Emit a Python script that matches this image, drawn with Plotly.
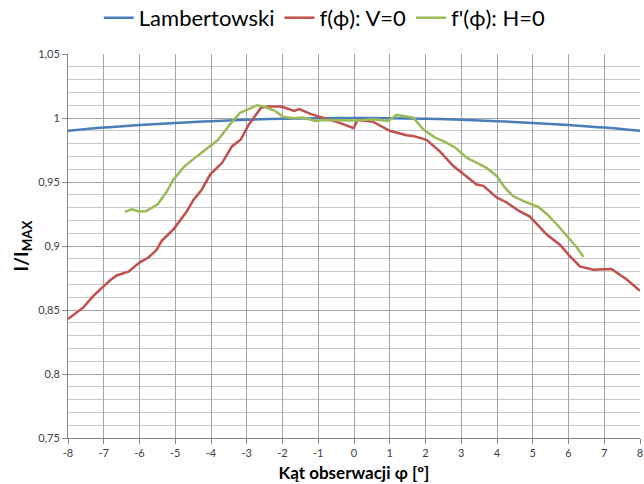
import plotly.graph_objects as go

# Lambertian reference
lam_x = [-8, -7, -6, -5, -4, -3, -2, -1, 0, 1, 2, 3, 4, 5, 6, 7, 8]
lam_y = [0.990, 0.9925, 0.9945, 0.996, 0.9975, 0.9986, 0.9994, 0.9998, 1.0,
         0.9998, 0.9994, 0.9986, 0.9975, 0.996, 0.9945, 0.9925, 0.990]

# f(phi): V=0
red_x = [-8.0, -7.57, -7.29, -7.0, -6.83, -6.64, -6.31, -6.0, -5.75, -5.52, -5.38,
         -5.05, -4.87, -4.68, -4.49, -4.26, -4.02, -3.69, -3.41, -3.17, -2.94, -2.6,
         -2.41, -2.04, -1.67, -1.53, -1.2, -0.86, -0.38, -0.01, 0.1, 0.54, 1.0, 1.47,
         1.65, 2.03, 2.4, 2.78, 3.06, 3.43, 3.62, 3.99, 4.27, 4.64, 4.92, 5.39, 5.76,
         6.04, 6.32, 6.69, 7.2, 7.62, 8.0]
red_y = [0.843, 0.852, 0.861, 0.869, 0.873, 0.877, 0.880, 0.887, 0.891, 0.897, 0.904,
         0.913, 0.920, 0.927, 0.936, 0.944, 0.956, 0.965, 0.978, 0.983, 0.995, 1.008,
         1.009, 1.009, 1.0055, 1.007, 1.003, 1.0003, 0.996, 0.992, 0.9985, 0.997, 0.990, 0.9865,
         0.986, 0.983, 0.974, 0.9625, 0.956, 0.948, 0.947, 0.938, 0.934, 0.927, 0.923, 0.909, 0.901,
         0.892, 0.884, 0.8815, 0.882, 0.874, 0.865]

# f'(phi): H=0
grn_x = [-6.41, -6.22, -6.0, -5.81, -5.49, -5.25, -5.05, -4.73, -4.4, -4.03, -3.8,
         -3.47, -3.19, -2.95, -2.72, -2.53, -2.21, -1.98, -1.7, -1.42, -1.09, -0.86,
         -0.39, 0.08, 0.54, 0.96, 1.19, 1.57, 1.66, 1.94, 2.27, 2.5, 2.83, 3.15, 3.43,
         3.71, 3.99, 4.22, 4.45, 4.74, 5.16, 5.39, 5.67, 5.95, 6.23, 6.42]
grn_y = [0.9266, 0.9287, 0.927, 0.9273, 0.9326, 0.942, 0.952, 0.9625, 0.970, 0.978, 0.983,
         0.995, 1.004, 1.007, 1.010, 1.009, 1.0055, 1.001, 0.9998, 1.0003, 0.9977, 0.9984,
         0.998, 0.998, 0.999, 0.9977, 1.0024, 1.001, 1.0003, 0.991, 0.9847, 0.982, 0.977, 0.969, 0.965,
         0.961, 0.9547, 0.9456, 0.939, 0.935, 0.9305, 0.925, 0.917, 0.908, 0.899, 0.8914]

y_ticks = [0.75, 0.8, 0.85, 0.9, 0.95, 1.0, 1.05]
y_labels = ["0,75", "0,8", "0,85", "0,9", "0,95", "1", "1,05"]
x_ticks = list(range(-8, 9))
x_labels = [str(v) for v in x_ticks]

FONT = "Lato, 'Open Sans', sans-serif"

fig = go.Figure()
fig.add_trace(go.Scatter(x=lam_x, y=lam_y, mode="lines", name="Lambertowski",
                         line=dict(color="#4A7EBB", width=2.5, shape="spline")))
fig.add_trace(go.Scatter(x=red_x, y=red_y, mode="lines", name="f(ϕ): V=0",
                         line=dict(color="#C0504D", width=2.5)))
fig.add_trace(go.Scatter(x=grn_x, y=grn_y, mode="lines", name="f'(ϕ): H=0",
                         line=dict(color="#9BBB59", width=2.5)))

fig.update_layout(
    width=644, height=484,
    margin=dict(l=68, r=4, t=54, b=46, autoexpand=False),
    paper_bgcolor="white", plot_bgcolor="white",
    font=dict(family=FONT, color="#404040"),
    showlegend=True,
    legend=dict(orientation="h", x=0.449, xanchor="center", y=1.094, yanchor="middle",
                font=dict(size=22, color="#000000", family=FONT),
                itemwidth=30, tracegroupgap=0, bgcolor="rgba(0,0,0,0)"),
    xaxis=dict(range=[-8, 8], tickvals=x_ticks, ticktext=x_labels,
               showgrid=True, gridcolor="#a6a6a6", gridwidth=1,
               showline=True, linecolor="#868686", linewidth=1,
               ticks="outside", ticklen=5, tickcolor="#868686",
               tickfont=dict(size=11, color="#404040"), zeroline=False,
               title=dict(text="<b>Kąt obserwacji φ [º]</b>", font=dict(size=17, color="#000000"),
                          standoff=8)),
    yaxis=dict(range=[0.75, 1.05], tickvals=y_ticks, ticktext=y_labels,
               showgrid=True, gridcolor="#a6a6a6", gridwidth=1,
               minor=dict(dtick=0.01, showgrid=True, gridcolor="#c8c8c8", gridwidth=1),
               showline=True, linecolor="#868686", linewidth=1,
               ticks="outside", ticklen=5, tickcolor="#868686",
               tickfont=dict(size=11, color="#404040"), zeroline=False,
               title=dict(text="<b>I/I<sub>MAX</sub></b>", font=dict(size=19, color="#000000"),
                          standoff=4)),
)

fig.write_html("out.html", config={"displayModeBar": False},
               post_script="document.body.style.margin='0';")
